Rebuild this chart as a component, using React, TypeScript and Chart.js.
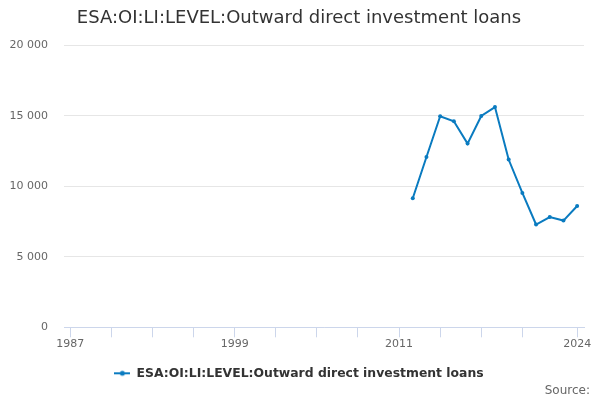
import React, { useEffect, useRef } from "react";
import { Chart, registerables } from "chart.js";

Chart.register(...registerables);

const years = [2012, 2013, 2014, 2015, 2016, 2017, 2018, 2019, 2020, 2021, 2022, 2023, 2024];
const values = [9150, 12080, 14970, 14610, 13030, 14990, 15620, 11900, 9530, 7290, 7820, 7570, 8600];
const xTickValues = [1987, 1990, 1993, 1996, 1999, 2002, 2005, 2008, 2011, 2014, 2017, 2020, 2024];
const xLabelYears = [1987, 1999, 2011, 2024];
const yTickValues = [0, 5000, 10000, 15000, 20000];
const seriesName = "ESA:OI:LI:LEVEL:Outward direct investment loans";
const titleText = "ESA:OI:LI:LEVEL:Outward direct investment loans";
const sourceText = "Source:";

const COLOR = "#0a7bc0";
const FONT = "'DejaVu Sans', sans-serif";

function makeLegendIcon(): HTMLCanvasElement {
  const c = document.createElement("canvas");
  c.width = 16;
  c.height = 8;
  const ctx = c.getContext("2d")!;
  ctx.strokeStyle = COLOR;
  ctx.lineWidth = 2;
  ctx.beginPath();
  ctx.moveTo(0, 4);
  ctx.lineTo(16, 4);
  ctx.stroke();
  ctx.fillStyle = COLOR;
  ctx.beginPath();
  ctx.arc(8, 4, 2.5, 0, Math.PI * 2);
  ctx.fill();
  return c;
}

export default function App() {
  const ref = useRef<HTMLCanvasElement | null>(null);

  useEffect(() => {
    if (!ref.current) return;
    const icon = makeLegendIcon();
    const chart = new Chart(ref.current, {
      type: "line",
      data: {
        datasets: [
          {
            label: seriesName,
            data: years.map((y, i) => ({ x: y, y: values[i] })),
            borderColor: COLOR,
            backgroundColor: COLOR,
            borderWidth: 2,
            pointRadius: 2,
            pointHoverRadius: 2,
            pointBackgroundColor: COLOR,
            pointBorderWidth: 0,
            tension: 0,
            pointStyle: "circle",
            yAxisID: "y",
          },
        ],
      },
      options: {
        animation: false,
        responsive: false,
        maintainAspectRatio: false,
        layout: { padding: { left: 8, right: 10, top: 0, bottom: 0 } },
        scales: {
          x: {
            type: "linear",
            min: 1986.54,
            max: 2024.5,
            afterBuildTicks: (scale: any) => {
              scale.ticks = xTickValues.map((v) => ({ value: v }));
            },
            afterFit: (scale: any) => {
              scale.height = 39.8;
            },
            ticks: {
              autoSkip: false,
              maxRotation: 0,
              padding: 0,
              color: "#666666",
              font: { family: FONT, size: 11 },
              callback: (v: any) => (xLabelYears.includes(Number(v)) ? String(v) : ""),
            },
            grid: {
              drawOnChartArea: false,
              drawTicks: true,
              tickLength: 10,
              color: "#ccd6eb",
              lineWidth: 1,
            },
            border: { display: true, color: "#ccd6eb", width: 1 },
          },
          y: {
            position: "left",
            min: 0,
            max: 20000,
            afterBuildTicks: (scale: any) => {
              scale.ticks = yTickValues.map((v) => ({ value: v }));
            },
            afterFit: (scale: any) => {
              scale.width = 56;
            },
            ticks: {
              padding: 16,
              color: "#666666",
              font: { family: FONT, size: 11 },
              callback: (v: any) => String(v).replace(/\B(?=(\d{3})+(?!\d))/g, " "),
            },
            grid: { color: "#e6e6e6", drawTicks: false, lineWidth: 1 },
            border: { display: false },
          },
          yr: {
            type: "linear",
            position: "right",
            display: true,
            min: 0,
            max: 20000,
            afterFit: (scale: any) => {
              scale.width = 6;
            },
            ticks: { display: false },
            grid: { display: false, drawTicks: false },
            border: { display: false },
          },
        },
        plugins: {
          title: {
            display: true,
            text: titleText,
            color: "#333333",
            font: { family: FONT, size: 18, weight: "normal" },
            padding: { top: 7.2, bottom: 16.5 },
          },
          subtitle: {
            display: true,
            text: sourceText,
            position: "bottom",
            align: "end",
            color: "#666666",
            font: { family: FONT, size: 12, weight: "normal" },
            padding: { top: -5.7, bottom: 1.8 },
          },
          legend: {
            display: true,
            position: "bottom",
            labels: {
              usePointStyle: true,
              pointStyleWidth: 16,
              padding: 0,
              color: "#333333",
              font: { family: FONT, size: 12.4, weight: "bold" },
              generateLabels: () => [
                {
                  text: seriesName,
                  pointStyle: icon as any,
                  fillStyle: COLOR,
                  strokeStyle: COLOR,
                  lineWidth: 0,
                  hidden: false,
                  datasetIndex: 0,
                  fontColor: "#333333",
                } as any,
              ],
            },
          },
          tooltip: { enabled: false },
        },
      },
    });
    return () => chart.destroy();
  }, []);

  return (
    <div style={{ position: "fixed", left: 0, top: 0, width: 600, height: 400, background: "#ffffff" }}>
      <canvas ref={ref} width={600} height={400} style={{ width: 600, height: 400, display: "block" }} />
    </div>
  );
}
